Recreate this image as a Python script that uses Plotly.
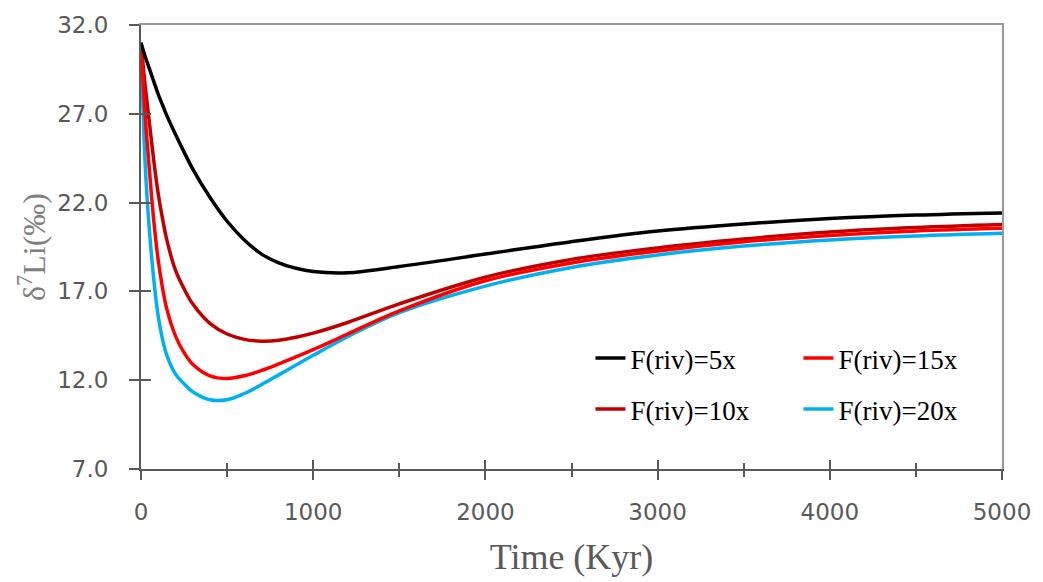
import plotly.graph_objects as go

# Time axis (Kyr) shared by all model runs
time_kyr = [0, 25, 50, 75, 100, 125, 150, 200, 250, 300, 400, 500, 600, 700, 800, 900, 1000,
            1200, 1500, 2000, 2500, 3000, 3500, 4000, 4500, 5000]

# Seawater d7Li response for different riverine flux multipliers
li_5x = [31.0, 30.2, 29.5, 28.8, 28.1, 27.5, 26.9, 25.85, 24.85, 23.9, 22.3, 20.95, 19.9, 19.1,
         18.6, 18.3, 18.12, 18.05, 18.4, 19.1, 19.8, 20.4, 20.8, 21.1, 21.3, 21.42]
li_10x = [31.0, 28.5, 26.4, 24.3, 22.5, 21.1, 19.9, 18.2, 17.15, 16.3, 15.2, 14.6, 14.3, 14.2,
          14.25, 14.42, 14.65, 15.25, 16.3, 17.8, 18.8, 19.45, 19.95, 20.35, 20.6, 20.77]
li_15x = [31.0, 26.8, 23.7, 20.9, 18.75, 17.2, 16.0, 14.5, 13.55, 12.9, 12.25, 12.1, 12.25, 12.55,
          12.92, 13.32, 13.72, 14.6, 15.9, 17.6, 18.6, 19.28, 19.8, 20.15, 20.4, 20.55]
li_20x = [31.0, 24.0, 20.3, 17.6, 15.6, 14.3, 13.4, 12.35, 11.8, 11.35, 10.9, 10.9, 11.25, 11.75,
          12.3, 12.85, 13.4, 14.45, 15.8, 17.3, 18.35, 19.05, 19.55, 19.9, 20.12, 20.27]

y_ticks = [7.0, 12.0, 17.0, 22.0, 27.0, 32.0]
x_ticks = [0, 1000, 2000, 3000, 4000, 5000]

series = [
    ("F(riv)=20x", li_20x, "#00B0F0", "legend2", 2),
    ("F(riv)=10x", li_10x, "#C00000", "legend2", 1),
    ("F(riv)=15x", li_15x, "#FF0000", "legend", 2),
    ("F(riv)=5x", li_5x, "#000000", "legend", 1),
]

AXIS = "#595959"
FRAME = "#999999"

fig = go.Figure()
for name, vals, color, leg, rank in series:
    fig.add_trace(go.Scatter(
        x=time_kyr, y=vals, name=name, mode="lines",
        line=dict(color=color, width=3.5, shape="spline", smoothing=1.0),
        legend=leg, legendrank=rank,
    ))

# empty traces that hold the overlay axes (inside ticks + frame)
fig.add_trace(go.Scatter(x=[], y=[], xaxis="x2", yaxis="y2", showlegend=False))
fig.add_trace(go.Scatter(x=[], y=[], xaxis="x3", yaxis="y3", showlegend=False))

xrange = [0, 5000]
yrange = [7, 32]

tick_font = dict(family="DejaVu Sans, sans-serif", size=23, color=AXIS)
leg_font = dict(family="Liberation Serif, Times New Roman, serif", size=27, color="#000000")

fig.update_layout(
    width=1043, height=582,
    margin=dict(l=141, r=38, t=22, b=113),
    paper_bgcolor="white", plot_bgcolor="white",
    xaxis=dict(
        range=xrange, tickvals=x_ticks, ticktext=[str(v) for v in x_ticks],
        showgrid=False, zeroline=False, showline=True, linecolor=AXIS, linewidth=2,
        ticks="outside", ticklen=9, tickwidth=2, tickcolor=AXIS,
        minor=dict(ticks="outside", dtick=500, ticklen=6, tickwidth=2, tickcolor=AXIS),
        tickfont=tick_font,
        ticklabelstandoff=12,
        title=dict(text="Time (Kyr)", standoff=20,
                   font=dict(family="Liberation Serif, Times New Roman, serif", size=36, color=AXIS)),
    ),
    yaxis=dict(
        range=yrange, tickvals=y_ticks, ticktext=[f"{v:.1f}" for v in y_ticks],
        showgrid=False, zeroline=False, showline=True, linecolor=AXIS, linewidth=2,
        ticks="outside", ticklen=10, tickwidth=2, tickcolor=AXIS,
        tickfont=tick_font,
        ticklabelstandoff=16,
        title=dict(text="δ<sup>7</sup>Li(‰)", standoff=2,
                   font=dict(family="Liberation Serif, Times New Roman, serif", size=32, color="#7f7f7f")),
    ),
    # frame on top and right
    xaxis2=dict(range=xrange, overlaying="x", side="top", anchor="y2",
                showline=True, linecolor=FRAME, linewidth=2, showticklabels=False,
                ticks="", showgrid=False, zeroline=False),
    yaxis2=dict(range=yrange, overlaying="y", side="right", anchor="x2",
                showline=True, linecolor=FRAME, linewidth=2, showticklabels=False,
                ticks="", showgrid=False, zeroline=False),
    # inside halves of the crossing ticks
    xaxis3=dict(range=xrange, overlaying="x", side="bottom", anchor="y3",
                tickvals=x_ticks, showticklabels=False, showline=False,
                ticks="inside", ticklen=9, tickwidth=2, tickcolor=AXIS,
                minor=dict(ticks="inside", dtick=500, ticklen=6, tickwidth=2, tickcolor=AXIS),
                showgrid=False, zeroline=False),
    yaxis3=dict(range=yrange, overlaying="y", side="left", anchor="x3",
                tickvals=y_ticks, showticklabels=False, showline=False,
                ticks="inside", ticklen=10, tickwidth=2, tickcolor=AXIS,
                showgrid=False, zeroline=False),
    legend=dict(orientation="h", x=0.522, xanchor="left", y=0.249, yanchor="middle",
                entrywidth=163, entrywidthmode="pixels", font=leg_font,
                bgcolor="rgba(0,0,0,0)", itemwidth=30),
    legend2=dict(orientation="h", x=0.522, xanchor="left", y=0.134, yanchor="middle",
                 entrywidth=163, entrywidthmode="pixels", font=leg_font,
                 bgcolor="rgba(0,0,0,0)", itemwidth=30),
    showlegend=True,
)

fig.write_html("out.html")
